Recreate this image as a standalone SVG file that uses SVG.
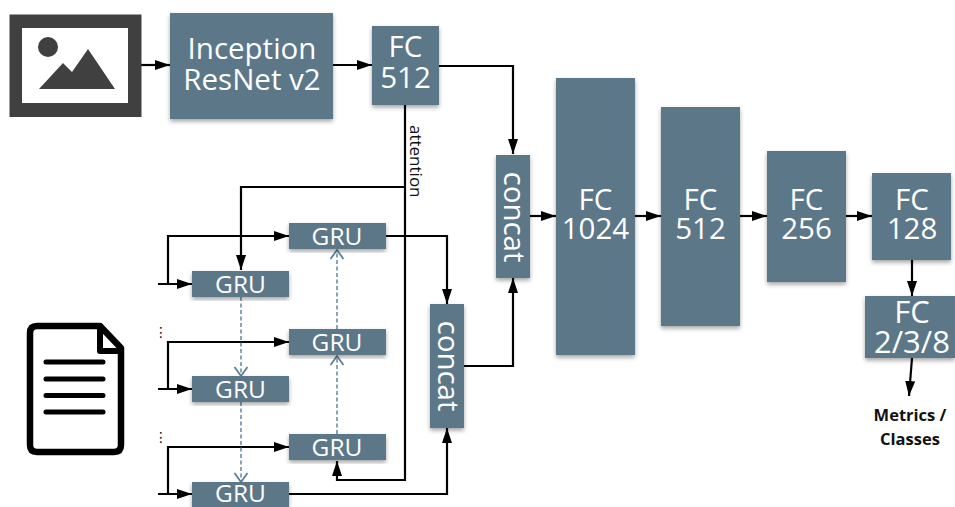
<svg xmlns="http://www.w3.org/2000/svg" width="955" height="507" viewBox="0 0 955 507">
<style>
.b{fill:#5b7788;filter:url(#s)}
.t{fill:#fff;font-family:"Open Sans","Noto Sans",sans-serif;text-anchor:middle}
.l{font-size:29.500px}.g{font-size:24.500px}
.c{fill:none;stroke:#000;stroke-width:2.2;stroke-linejoin:miter}
.a{marker-end:url(#ah)}
.d{fill:none;stroke:#5b7f96;stroke-width:1.4;stroke-dasharray:4 2.5;marker-end:url(#dh)}
</style>
<defs>
<filter id="s" x="-10%" y="-10%" width="120%" height="125%"><feDropShadow dx="0" dy="2.5" stdDeviation="2" flood-color="#000" flood-opacity=".35"/></filter>
<marker id="ah" markerUnits="userSpaceOnUse" markerWidth="16" markerHeight="14" refX="15" refY="7" orient="auto"><path d="M0 2L15 7L0 12z" fill="#000"/></marker>
<marker id="dh" markerUnits="userSpaceOnUse" markerWidth="14" markerHeight="18" refX="11" refY="9" orient="auto"><path d="M2 2.500L11 9L2 15.500" fill="none" stroke="#5b7f96" stroke-width="1.800"/></marker>
</defs>
<rect width="955" height="507" fill="#fff"/>
<g id="connectors">
<path class="c a" d="M141 65H170"/>
<path class="c a" d="M333 65H372"/>
<path class="c a" d="M439 66H513V154"/>
<path class="c a" d="M405 105V480H337V461"/>
<path class="c a" d="M405 187H241V270"/>
<path class="c a" d="M158 284H192" stroke-width="3"/>
<path class="c a" d="M168 284V236H289"/>
<path class="c a" d="M158 389H192" stroke-width="3"/>
<path class="c a" d="M168 389V342H289"/>
<path class="c a" d="M158 494H192" stroke-width="3"/>
<path class="c a" d="M168 494V447H289"/>
<path class="c a" d="M386 236H447V304"/>
<path class="c a" d="M289 494H447V428"/>
<path class="c a" d="M464 366H513V278"/>
<path class="c a" d="M530 216H556"/>
<path class="c a" d="M635 216H661"/>
<path class="c a" d="M740 216H767"/>
<path class="c a" d="M846 216H872"/>
<path class="c a" d="M912 260V296"/>
<path class="c a" d="M912 358L909 396"/>
<path class="d" d="M241 297V376"/>
<path class="d" d="M241 402V482"/>
<path class="d" d="M337 329V250"/>
<path class="d" d="M337 434V356"/>
</g>
<g id="image-icon">
<rect x="9.500" y="14.500" width="132" height="102.500" fill="#404040"/>
<rect x="22" y="28" width="106" height="75" fill="#fff"/>
<circle cx="48" cy="47" r="10" fill="#404040"/>
<path d="M39 89L63 63L72 72L88 49L115 89z" fill="#404040"/>
</g>
<g id="document-icon" fill="none" stroke="#000" stroke-width="6.500" stroke-linecap="round" stroke-linejoin="round">
<path d="M100 326H37Q30 326 30 333V445Q30 452 37 452H114Q121 452 121 445V348Z"/>
<path d="M100 326V351H121" stroke-width="6"/>
<path d="M46 362H103M46 379H103M46 395.500H103M46 412H103" stroke-width="5"/>
</g>
<g id="inception"><rect class="b" x="170" y="13" width="163" height="106"/><text class="t l" x="252" y="59">Inception<tspan x="252" dy="31">ResNet v2</tspan></text></g>
<g id="fc512a"><rect class="b" x="372" y="26" width="67" height="79"/><text class="t l" x="405.500" y="57">FC<tspan x="405.500" dy="31">512</tspan></text></g>
<g id="concat1"><rect class="b" x="496" y="155" width="34" height="123"/><text class="t l" transform="translate(504 217) rotate(90)">concat</text></g>
<g id="concat2"><rect class="b" x="430" y="304" width="34" height="124"/><text class="t l" transform="translate(438 366) rotate(90)">concat</text></g>
<g id="fc1024"><rect class="b" x="556" y="78" width="79" height="277"/><text class="t l" x="595.500" y="210">FC<tspan x="595.500" dy="29">1024</tspan></text></g>
<g id="fc512b"><rect class="b" x="661" y="107" width="79" height="219"/><text class="t l" x="700.500" y="210">FC<tspan x="700.500" dy="29">512</tspan></text></g>
<g id="fc256"><rect class="b" x="767" y="151" width="79" height="131"/><text class="t l" x="806.500" y="210">FC<tspan x="806.500" dy="29">256</tspan></text></g>
<g id="fc128"><rect class="b" x="872" y="173" width="79" height="87"/><text class="t l" x="912" y="210">FC<tspan x="912" dy="29">128</tspan></text></g>
<g id="fc238"><rect class="b" x="865" y="296" width="90" height="62"/><text class="t l" x="912" y="323" style="font-size:31px">FC<tspan x="912" dy="30">2/3/8</tspan></text></g>
<g id="gru1"><rect class="b" x="289" y="223" width="97" height="26"/><text class="t g" x="337" y="245">GRU</text></g>
<g id="gru2"><rect class="b" x="192" y="271" width="97" height="26"/><text class="t g" x="240.500" y="293">GRU</text></g>
<g id="gru3"><rect class="b" x="289" y="329" width="97" height="26"/><text class="t g" x="337" y="351">GRU</text></g>
<g id="gru4"><rect class="b" x="192" y="376" width="97" height="26"/><text class="t g" x="240.500" y="398">GRU</text></g>
<g id="gru5"><rect class="b" x="289" y="434" width="97" height="26"/><text class="t g" x="337" y="456">GRU</text></g>
<g id="gru6"><rect class="b" x="192" y="482" width="97" height="25"/><text class="t g" x="240.500" y="502">GRU</text></g>
<text transform="translate(410 125) rotate(90)" font-family="Open Sans,Noto Sans,sans-serif" font-size="17" fill="#111">attention</text>
<text x="161" y="337" font-family="DejaVu Sans,sans-serif" font-size="14" text-anchor="middle" fill="#111">⋮</text>
<text x="161" y="442" font-family="DejaVu Sans,sans-serif" font-size="14" text-anchor="middle" fill="#111">⋮</text>
<g font-family="Open Sans,Noto Sans,sans-serif" font-size="16.500" font-weight="700" text-anchor="middle" fill="#111"><text x="910" y="421">Metrics /</text><text x="910" y="445">Classes</text></g>
</svg>
